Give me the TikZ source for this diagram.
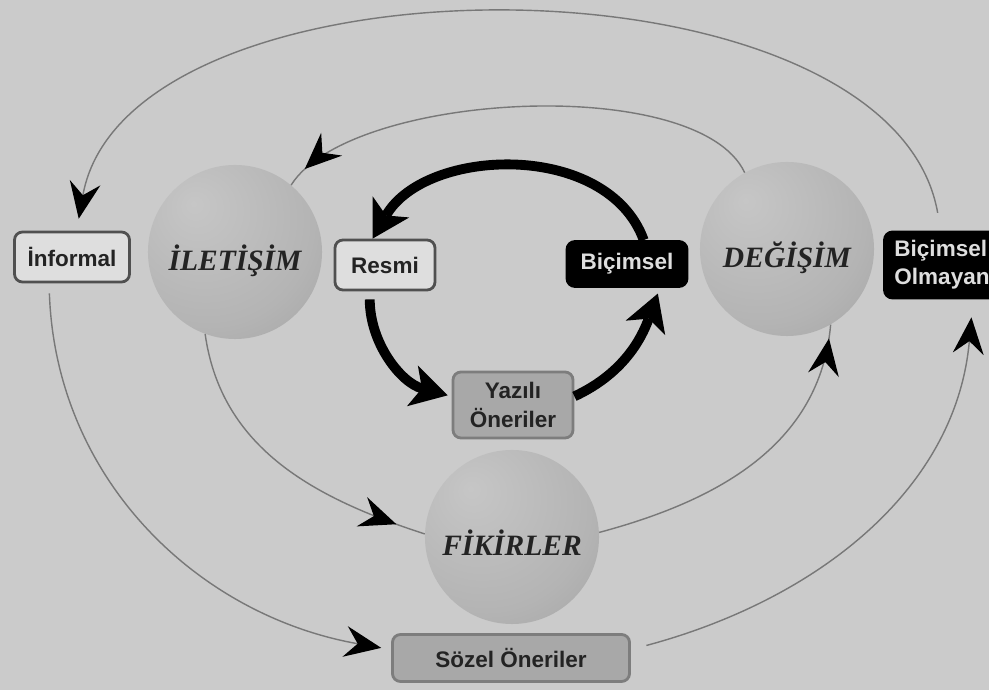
\documentclass[tikz,border=0pt]{standalone}
\usepackage{fontspec}
\setmainfont{Liberation Serif}
\setsansfont{Liberation Sans}
\usetikzlibrary{arrows.meta,decorations.markings}

\definecolor{bggray}{RGB}{203,203,203}
\definecolor{linegray}{RGB}{120,120,120}
\definecolor{boxlight}{RGB}{222,222,222}
\definecolor{boxmid}{RGB}{168,168,168}
\definecolor{boxedge}{RGB}{80,80,80}
\definecolor{boxmidedge}{RGB}{125,125,125}
\definecolor{inkgray}{RGB}{35,35,35}
\definecolor{sphhi}{RGB}{198,198,198}
\definecolor{sphmid}{RGB}{180,180,180}
\definecolor{sphlo}{RGB}{155,155,155}
\definecolor{sphedge}{RGB}{132,132,132}

\pgfdeclareradialshading{spheregray}{\pgfpoint{-12bp}{14bp}}{color(0bp)=(sphhi); color(30bp)=(sphmid); color(55bp)=(sphlo); color(70bp)=(sphedge); color(80bp)=(sphedge)}

\tikzset{
  sphere/.style={circle, shading=spheregray, minimum size=4.35cm, inner sep=0pt,
    font=\fontsize{21}{24}\selectfont\bfseries\itshape, text=inkgray,
    text height=30pt, text depth=3pt},
  labelbox/.style={rectangle, rounded corners=0.2cm, line width=2pt, inner sep=0pt,
    font=\fontsize{16}{20}\selectfont\sffamily\bfseries, align=center},
  whitebox/.style={labelbox, draw=boxedge, fill=boxlight, text=inkgray},
  greybox/.style={labelbox, draw=boxmidedge, fill=boxmid, text=inkgray},
  blackbox/.style={labelbox, draw=black, fill=black, text=boxlight},
  cyclearrow/.style={line width=7pt, -{Stealth[length=26pt,width=30pt,inset=7pt,line width=0pt]}},
  flowline/.style={draw=linegray, line width=1pt},
  flowtip/.style={flowline, -{Stealth[length=26pt,width=22pt,inset=9pt,color=black]}},
  midtip/.style={flowline, postaction={decorate},
    decoration={markings, mark=at position #1 with {\arrow{Stealth[length=26pt,width=22pt,inset=9pt,color=black]}}}}
}

\begin{document}
\begin{tikzpicture}[x=0.025cm, y=0.025cm]
  \clip (0,0) rectangle (989,690);
  \fill[bggray] (0,0) rectangle (989,690);

  \node[whitebox, minimum width=2.875cm, minimum height=1.25cm] (informal) at (72,433) {İnformal};
  \node[whitebox, minimum width=2.5cm, minimum height=1.25cm] (resmi) at (385,425) {Resmi};
  \node[blackbox, minimum width=3cm, minimum height=1.125cm] (bicimsel) at (627,426) {Biçimsel};
  \node[blackbox, minimum width=2.875cm, minimum height=1.65cm, align=left] (bolmayan) at (942,425) {Biçimsel\\Olmayan};
  \node[greybox, minimum width=3cm, minimum height=1.65cm] (yazili) at (513,285) {Yazılı\\Öneriler};
  \node[greybox, minimum width=5.925cm, minimum height=1.175cm] (sozel) at (511,32) {Sözel Öneriler};

  \node[sphere] (iletisim) at (235,438) {İLETİŞİM};
  \node[sphere] (degisim) at (787,441) {DEĞİŞİM};
  \node[sphere] (fikirler) at (512,153) {FİKİRLER};

  \draw[cyclearrow] (bicimsel.55) to[out=110, in=60] (resmi.115);
  \draw[cyclearrow, shorten <=0.2cm, shorten >=0.1cm] (resmi.240) to[out=-90, in=165] (yazili.172);
  \draw[cyclearrow, shorten >=0.15cm] (yazili.8) to[out=25, in=250] (bicimsel.-36);

  \draw[flowtip, shorten <=0.45cm, shorten >=0.3cm] (bolmayan.92) to[out=100, in=80, looseness=0.86] (informal.80);
  \draw[midtip=-0.53cm] (degisim.119) to[out=115, in=58, looseness=0.62] (iletisim.50);
  \draw[flowtip, shorten <=0.25cm, shorten >=0.25cm] (informal.229) to[out=-88, in=170] (sozel.176);
  \draw[midtip=-0.75cm] (iletisim.250) to[out=-82, in=162] (fikirler.178);
  \draw[midtip=-0.35cm] (fikirler.3) to[out=15, in=265] (degisim.-60);
  \draw[flowtip, shorten <=0.4cm, shorten >=0.45cm] (sozel.4) to[out=15, in=265] (bolmayan.-48);
\end{tikzpicture}
\end{document}
